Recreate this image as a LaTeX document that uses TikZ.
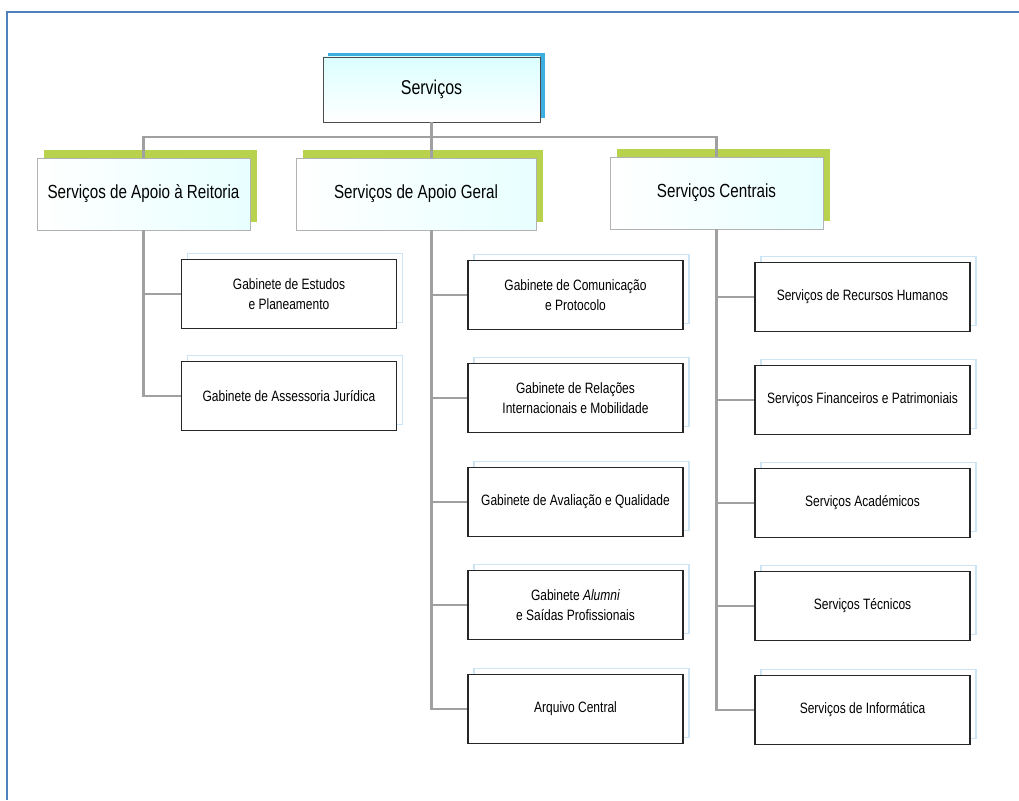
\documentclass[tikz,border=0pt]{standalone}
\usepackage{fontspec}
\setmainfont{Liberation Sans}[FakeStretch=0.8]
\usepackage{tikz}
\usetikzlibrary{shadows}
\definecolor{frame-color}{RGB}{79, 129, 189}
\definecolor{dept-green}{RGB}{184, 210, 78}
\definecolor{root-blue}{RGB}{60, 175, 225}
\definecolor{unit-blue}{RGB}{205, 228, 245}
\definecolor{link-gray}{RGB}{160, 160, 160}

\begin{document}
\begin{tikzpicture}[
    x=1pt, y=-1pt,
    servbox/.style={rectangle, draw=black!70, line width=0.9pt, inner sep=0pt,
        minimum width=217pt, minimum height=65pt, top color=cyan!14, bottom color=white,
        general shadow={shadow xshift=5pt, shadow yshift=4pt, fill=root-blue},
        font=\fontsize{20}{22}\selectfont},
    deptbox/.style={rectangle, draw=gray!60, line width=0.8pt, inner sep=0pt,
        minimum width=213pt, minimum height=72pt, left color=white, right color=cyan!9,
        general shadow={shadow xshift=7pt, shadow yshift=8pt, fill=dept-green},
        font=\fontsize{19}{21}\selectfont},
    unitbox/.style={rectangle, draw=black!85, line width=1.3pt, inner sep=0pt, fill=white,
        minimum width=215pt, minimum height=69pt, align=center,
        general shadow={shadow xshift=6pt, shadow yshift=6pt, draw=unit-blue, fill=white},
        font=\fontsize{15}{20}\selectfont},
    link/.style={draw=link-gray, line width=2.6pt}
]
\useasboundingbox (0,0) rectangle (1019,800);
\draw[frame-color, line width=2.5pt] (7,800) -- (7,12) -- (1019,12);

\node[servbox] (servicos) at (431.5,89.5) {Serviços};
\coordinate (bus) at (0,137);

\node[deptbox] (reitoria) at (143.5,194) {Serviços de Apoio à Reitoria};
\node[deptbox, minimum width=240pt] (geral) at (416,194) {Serviços de Apoio Geral};
\node[deptbox] (centrais) at (716.5,193) {Serviços Centrais};

\node[unitbox] (estudos) at (289,294) {Gabinete de Estudos\\e Planeamento};
\node[unitbox] (juridica) at (289,396) {Gabinete de Assessoria Jurídica};

\node[unitbox] (comunicacao) at (575.5,295) {Gabinete de Comunicação\\e Protocolo};
\node[unitbox] (relacoes) at (575.5,398) {Gabinete de Relações\\Internacionais e Mobilidade};
\node[unitbox] (avaliacao) at (575.5,502) {Gabinete de Avaliação e Qualidade};
\node[unitbox] (alumni) at (575.5,605) {Gabinete \textit{Alumni}\\e Saídas Profissionais};
\node[unitbox] (arquivo) at (575.5,709) {Arquivo Central};

\node[unitbox] (rh) at (862.5,297) {Serviços de Recursos Humanos};
\node[unitbox] (financeiros) at (862.5,400) {Serviços Financeiros e Patrimoniais};
\node[unitbox] (academicos) at (862.5,503) {Serviços Académicos};
\node[unitbox] (tecnicos) at (862.5,606) {Serviços Técnicos};
\node[unitbox] (informatica) at (862.5,710) {Serviços de Informática};

\draw[link] (servicos.south) -- (servicos.south |- geral.north);
\draw[link] (reitoria.north) |- (centrais.north |- bus) -- (centrais.north);

\draw[link] (reitoria.south) |- (juridica.west);
\draw[link] (reitoria.south |- estudos.west) -- (estudos.west);

\draw[link] (geral.south -| servicos.south) |- (arquivo.west);
\foreach \u in {comunicacao, relacoes, avaliacao, alumni}
    \draw[link] (servicos.south |- \u.west) -- (\u.west);

\draw[link] (centrais.south) |- (informatica.west);
\foreach \u in {rh, financeiros, academicos, tecnicos}
    \draw[link] (centrais.south |- \u.west) -- (\u.west);
\end{tikzpicture}
\end{document}
